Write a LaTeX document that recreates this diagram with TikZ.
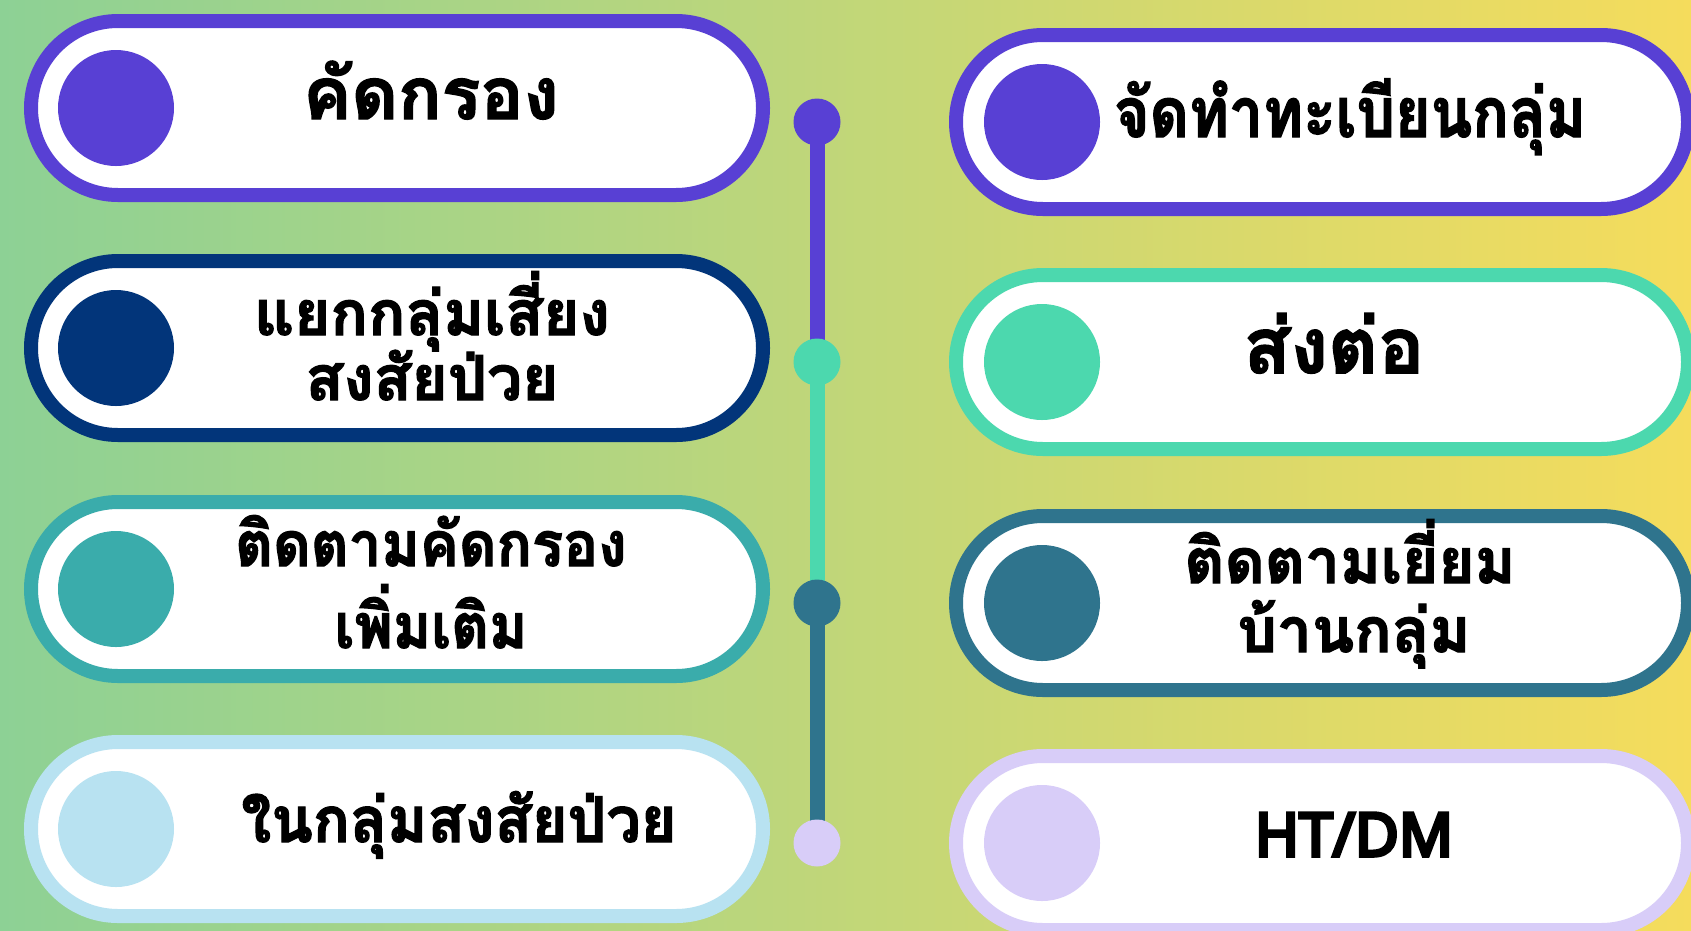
\documentclass[tikz,border=0pt]{standalone}
\usepackage{graphicx}
\usepackage{fontspec}
\newfontfamily\thaifont[Script=Thai,FakeBold=2]{Loma}
\newfontfamily\latfont[FakeBold=6]{Noto Sans}
\definecolor{bgL}{HTML}{8DD195}
\definecolor{bgR}{HTML}{F5DC5C}
\definecolor{cPurple}{HTML}{5840D4}
\definecolor{cNavy}{HTML}{02357A}
\definecolor{cTeal}{HTML}{3AACAB}
\definecolor{cLight}{HTML}{B8E2F1}
\definecolor{cMint}{HTML}{4CD8AE}
\definecolor{cDark}{HTML}{2F748D}
\definecolor{cLav}{HTML}{D8CDF8}
\newcommand{\fsz}[1]{\fontsize{#1}{#1}\selectfont}
\tikzset{
  pill/.style={draw=#1, fill=white, line width=14pt, rectangle, rounded corners=87pt,
    minimum width=732pt, minimum height=174pt, inner sep=0pt},
  bullet/.style={circle, fill=#1, minimum size=116pt, inner sep=0pt},
  tdot/.style={circle, fill=#1, minimum size=47pt, inner sep=0pt},
  tline/.style={line width=15pt, draw=#1},
  lbl/.style={font=\thaifont\bfseries\fsz{62}, inner sep=0pt, anchor=base, text=black},
  lat/.style={font=\latfont\fsz{60}, inner sep=0pt, anchor=base, text=black}
}
\begin{document}
\begin{tikzpicture}[x=1pt,y=-1pt]
\useasboundingbox (0,0) rectangle (1691,930);
\clip (0,0) rectangle (1691,930);
\shade[left color=bgL, right color=bgR] (0,0) rectangle (1691,930);
% left pills
\node[pill=cPurple] (L1) at (397,108) {};
\node[pill=cNavy]   (L2) at (397,348) {};
\node[pill=cTeal]   (L3) at (397,589) {};
\node[pill=cLight]  (L4) at (397,829) {};
\node[bullet=cPurple] (LB1) at (116,108) {};
\node[bullet=cNavy]   (LB2) at (116,348) {};
\node[bullet=cTeal]   (LB3) at (116,589) {};
\node[bullet=cLight]  (LB4) at (116,829) {};
% right pills
\node[pill=cPurple] (R1) at (1322,122) {};
\node[pill=cMint]   (R2) at (1322,362) {};
\node[pill=cDark]   (R3) at (1322,603) {};
\node[pill=cLav]    (R4) at (1322,843) {};
\node[bullet=cPurple] (RB1) at (1042,122) {};
\node[bullet=cMint]   (RB2) at (1042,362) {};
\node[bullet=cDark]   (RB3) at (1042,603) {};
\node[bullet=cLav]    (RB4) at (1042,843) {};
% timeline
\coordinate (k1) at (817,122);
\coordinate (k2) at (817,362);
\coordinate (k3) at (817,603);
\coordinate (k4) at (817,843);
\draw[tline=cPurple] (k1) -- (k2);
\draw[tline=cMint] (k2) -- (k3);
\draw[tline=cDark] (k3) -- (k4);
\node[tdot=cPurple] (D1) at (k1) {};
\node[tdot=cMint]   (D2) at (k2) {};
\node[tdot=cDark]   (D3) at (k3) {};
\node[tdot=cLav]    (D4) at (k4) {};
% labels left
\node[lbl, font=\thaifont\bfseries\fsz{72}] (T1) at (431,119) {คัดกรอง};
\node[lbl] (T2a) at (432,335) {แยกกลุ่มเสี่ยง};
\node[lbl] (T2b) at (432,400) {สงสัยป่วย};
\node[lbl] (T3a) at (431,566) {\scalebox{0.94}[1]{ติดตามคัดกรอง}};
\node[lbl] (T3b) at (431,648) {\scalebox{0.94}[1]{เพิ่มเติม}};
\node[lbl, font=\thaifont\bfseries\fsz{63}] (T4) at (459,842) {\scalebox{0.97}[1]{ในกลุ่มสงสัยป่วย}};
% labels right
\node[lbl, font=\thaifont\bfseries\fsz{69}] (U1) at (1350,137) {\scalebox{0.88}[1]{จัดทำทะเบียนกลุ่ม}};
\node[lbl, font=\thaifont\bfseries\fsz{77}] (U2) at (1334,373) {ส่งต่อ};
\node[lbl] (U3a) at (1350,583) {ติดตามเยี่ยม};
\node[lbl] (U3b) at (1354,652) {บ้านกลุ่ม};
\node[lat] (U4) at (1354,856) {HT/DM};
\end{tikzpicture}
\end{document}
